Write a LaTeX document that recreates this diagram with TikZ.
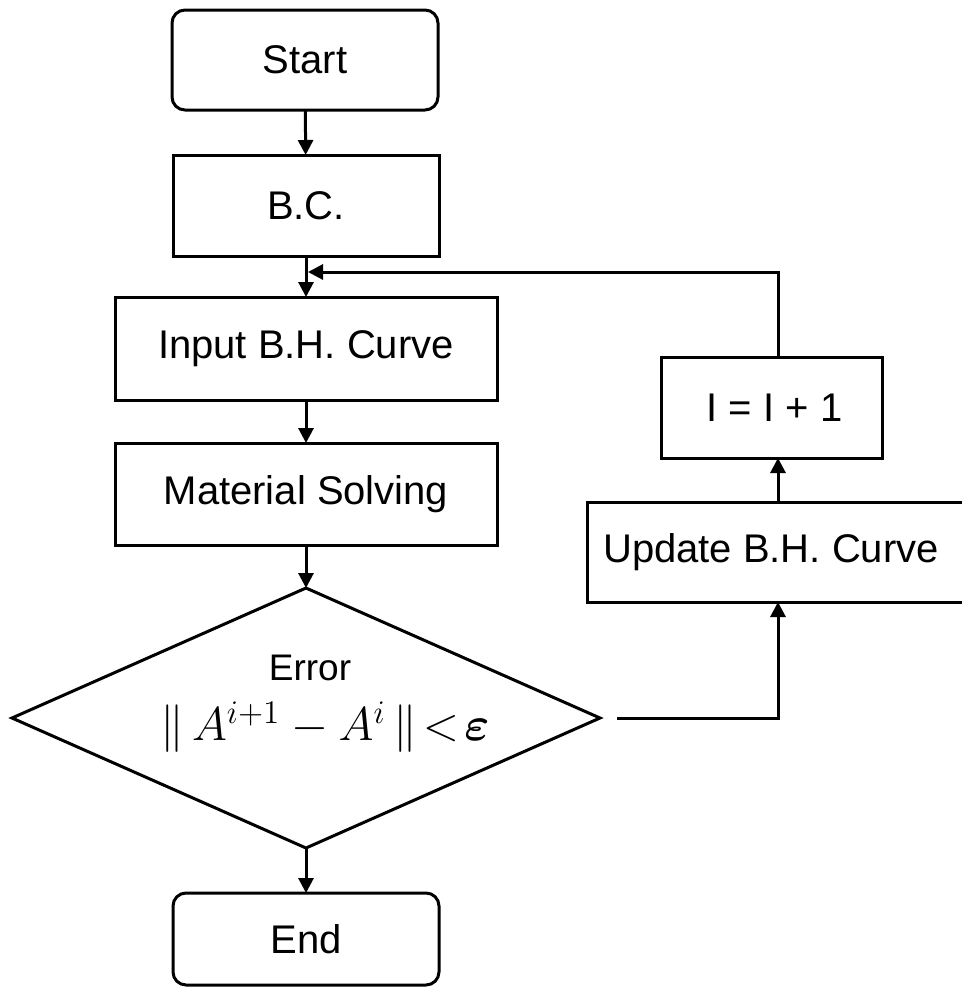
\documentclass[tikz,border=0pt]{standalone}
\usepackage{amsmath,amssymb}
\usepackage{graphicx}
\usepackage{fontspec}
\setmainfont{Liberation Sans}
\usetikzlibrary{shapes.geometric,arrows.meta,calc}
\begin{document}
\begin{tikzpicture}[x=1pt,y=-1pt,
  line width=3pt,
  every node/.style={inner sep=0pt, outer sep=0pt},
  lbl/.style={font=\fontsize{40}{44}\selectfont},
  terminal/.style={draw, rounded corners=13pt, lbl},
  procbox/.style={draw, lbl},
  decision/.style={draw, diamond, minimum width=588pt, minimum height=260pt},
  arr/.style={-{Triangle[length=15pt,width=15pt]}}]
\useasboundingbox (0,0) rectangle (962,989);

% main column
\node[terminal, minimum width=266pt, minimum height=100pt] (start) at (305,60) {Start};
\node[procbox, minimum width=266pt, minimum height=101pt] (bc) at (306,205.5) {B.C.};
\node[procbox, minimum width=382pt, minimum height=103pt] (inp) at (306,348.5) {Input B.H. Curve};
\node[procbox, minimum width=382pt, minimum height=102pt] (mat) at (306,494) {Material Solving};
\node[decision] (dec) at (306,718) {};
\node[font=\fontsize{37}{40}\selectfont] (err) at (310,668) {Error};
\node (crit) at (325,727) {\fontsize{17.28}{20}\selectfont\scalebox{2.75}{$\|\,A^{i+1}-A^{i}\,\|\!<\!\boldsymbol{\varepsilon}$}};
\node[terminal, minimum width=266pt, minimum height=92pt] (fin) at (306,939) {End};

% iteration branch
\node[procbox, minimum width=380pt, minimum height=100pt] (upd) at (777,552) {\hspace*{-12pt}Update B.H. Curve};
\node[procbox, minimum width=221pt, minimum height=101pt] (inc) at (771.5,407.5) {\hspace*{6pt}I = I + 1};

\coordinate (turn) at (778,718);
\coordinate (top) at (778,272);
\coordinate (join) at (308,272);

% connectors
\draw[arr] (start) -- (bc);
\draw[arr] (bc) -- (inp);
\draw[arr] (inp) -- (mat);
\draw[arr] (mat) -- (dec.north);
\draw[arr] (dec.south) -- (fin);
\draw[arr] ($(dec.east)+(17,0)$) -- (turn) -- (turn |- upd.south);
\draw[arr] (turn |- upd.north) -- (turn |- inc.south);
\draw[arr] (turn |- inc.north) -- (top) -- (join);
\end{tikzpicture}
\end{document}
